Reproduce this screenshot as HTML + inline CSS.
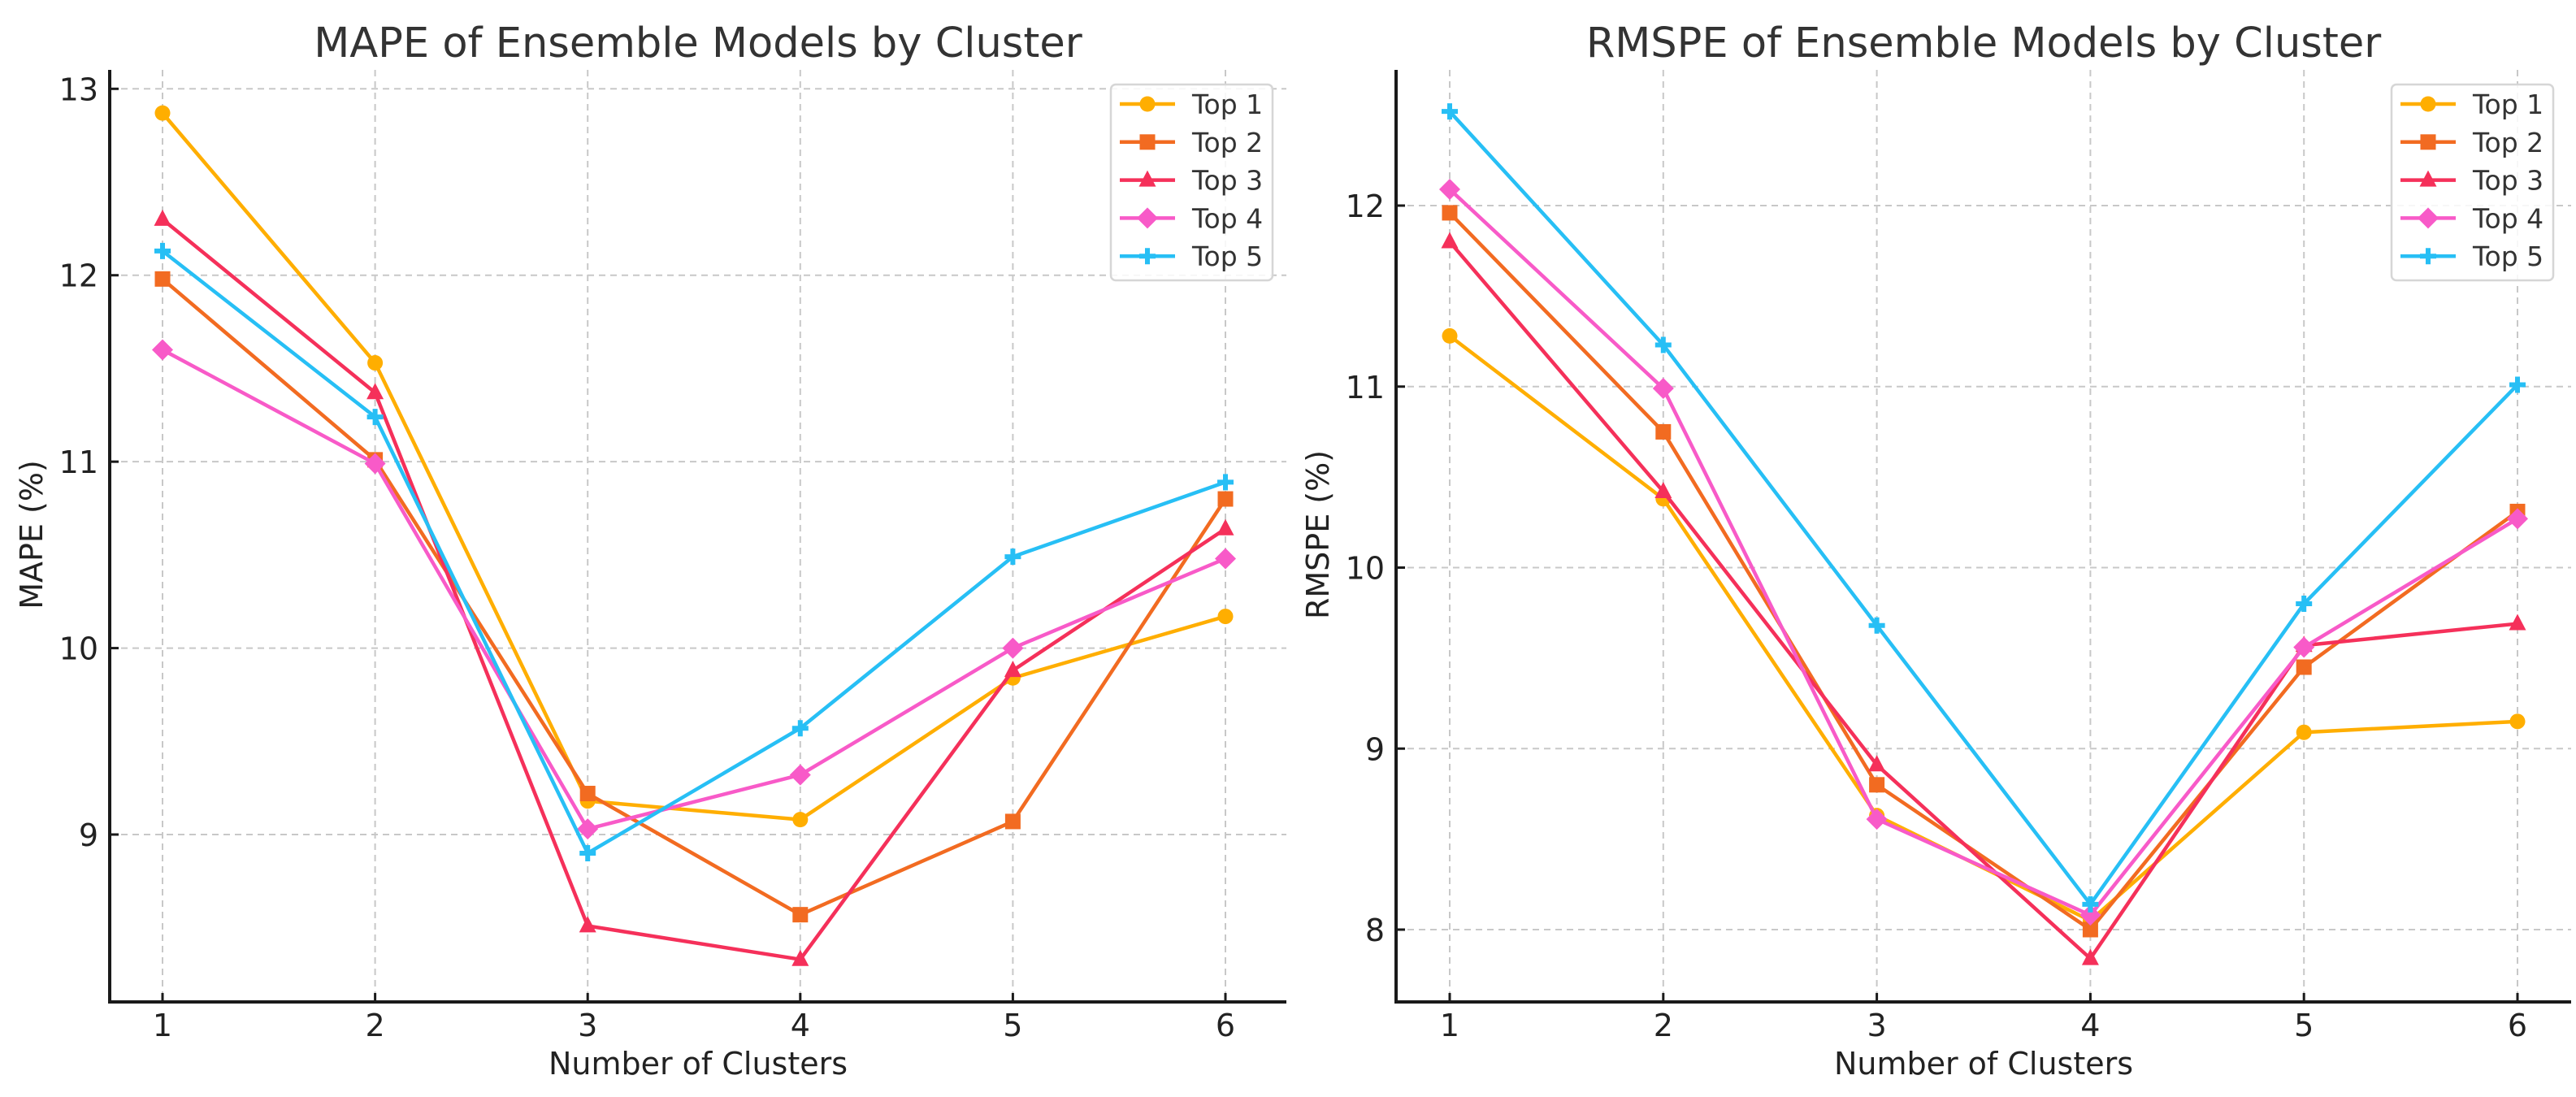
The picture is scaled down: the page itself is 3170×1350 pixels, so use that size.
<!DOCTYPE html>
<html><head><meta charset="utf-8"><style>
html,body{margin:0;padding:0;background:#fff;}
svg{display:block;font-family:"DejaVu Sans","Liberation Sans",sans-serif;}
</style></head><body>
<svg id="chart" width="3170" height="1350" viewBox="0 0 3170 1350" xmlns="http://www.w3.org/2000/svg"></svg>
<script>
const categories = [1, 2, 3, 4, 5, 6];
const seriesNames = ["Top 1", "Top 2", "Top 3", "Top 4", "Top 5"];
const mapeTop1 = [12.87, 11.53, 9.18, 9.08, 9.84, 10.17];
const mapeTop2 = [11.98, 11.01, 9.22, 8.57, 9.07, 10.80];
const mapeTop3 = [12.30, 11.37, 8.51, 8.33, 9.88, 10.64];
const mapeTop4 = [11.60, 10.99, 9.03, 9.32, 10.00, 10.48];
const mapeTop5 = [12.13, 11.24, 8.90, 9.57, 10.49, 10.89];
const rmspeTop1 = [11.28, 10.38, 8.63, 8.05, 9.09, 9.15];
const rmspeTop2 = [11.96, 10.75, 8.80, 8.00, 9.45, 10.31];
const rmspeTop3 = [11.80, 10.42, 8.91, 7.84, 9.57, 9.69];
const rmspeTop4 = [12.09, 10.99, 8.61, 8.08, 9.56, 10.27];
const rmspeTop5 = [12.52, 11.23, 9.68, 8.14, 9.80, 11.01];
const mapeTicks = [9, 10, 11, 12, 13];
const rmspeTicks = [8, 9, 10, 11, 12];
const colors = ["#ffae00", "#f26b21", "#f5305a", "#f85ac8", "#27bff5"];
const markers = ["circle", "square", "triangle", "diamond", "plus"];

const NS = "http://www.w3.org/2000/svg";
const svg = document.getElementById("chart");
function mk(tag, attrs, parent) {
  const e = document.createElementNS(NS, tag);
  for (const k in attrs) e.setAttribute(k, attrs[k]);
  (parent || svg).appendChild(e);
  return e;
}

function marker(g, type, x, y, color) {
  let m;
  if (type === "circle") m = mk("circle", {cx: x, cy: y, r: 9.5, fill: color}, g);
  else if (type === "square") m = mk("rect", {x: x - 9.5, y: y - 9.5, width: 19, height: 19, fill: color}, g);
  else if (type === "triangle") m = mk("polygon", {points: `${x},${y-12} ${x+10.5},${y+8} ${x-10.5},${y+8}`, fill: color}, g);
  else if (type === "diamond") m = mk("polygon", {points: `${x},${y-13} ${x+13},${y} ${x},${y+13} ${x-13},${y}`, fill: color}, g);
  else {
    m = mk("path", {d: `M${x-10},${y}H${x+10}M${x},${y-10}V${y+10}`, stroke: color, "stroke-width": 6, fill: "none"}, g);
  }
  
  
}

function drawPanel(opt) {
  const g = mk("g", {});
  
  
  const xS = v => opt.x1 + (v - 1) * (opt.x6 - opt.x1) / 5;
  const yS = v => opt.yA + (opt.vA - v) * (opt.yB - opt.yA) / (opt.vA - opt.vB);
  categories.forEach(c => {
    const l = mk("line", {x1: xS(c), x2: xS(c), y1: opt.top, y2: opt.bottom, stroke: "#c8c8c8", "stroke-width": 2, "stroke-dasharray": "8,6"}, g);
    
    
  });
  opt.ticks.forEach(t => {
    const l = mk("line", {x1: opt.left, x2: opt.right, y1: yS(t), y2: yS(t), stroke: "#c8c8c8", "stroke-width": 2, "stroke-dasharray": "8,6"}, g);
    
    
  });
  opt.series.forEach((vals, i) => {
    const sg = mk("g", {}, g);
    
    
    const pts = vals.map((v, j) => xS(categories[j]) + "," + yS(v)).join(" ");
    const pl = mk("polyline", {points: pts, fill: "none", stroke: colors[i], "stroke-width": 4.5, "stroke-linejoin": "round"}, sg);
    
    
    vals.forEach((v, j) => marker(sg, markers[i], xS(categories[j]), yS(v), colors[i]));
  });
  const sp = mk("path", {d: `M${opt.left},${opt.top}V${opt.bottom}H${opt.right}`, fill: "none", stroke: "#1a1a1a", "stroke-width": 4}, g);
  
  
  categories.forEach(c => {
    mk("line", {x1: xS(c), x2: xS(c), y1: opt.bottom, y2: opt.bottom - 11, stroke: "#1a1a1a", "stroke-width": 3}, g);
    const t = mk("text", {x: xS(c), y: opt.bottom + 42, "text-anchor": "middle", "font-size": 38, fill: "#222"}, g);
    t.textContent = c;
    
    
  });
  opt.ticks.forEach(v => {
    mk("line", {x1: opt.left, x2: opt.left + 11, y1: yS(v), y2: yS(v), stroke: "#1a1a1a", "stroke-width": 3}, g);
    const t = mk("text", {x: opt.left - 14, y: yS(v) + 14, "text-anchor": "end", "font-size": 38, fill: "#222"}, g);
    t.textContent = v;
    
    
  });
  const cx = (opt.left + opt.right) / 2;
  const ti = mk("text", {x: cx, y: 70, "text-anchor": "middle", "font-size": 51, fill: "#333"}, g);
  ti.textContent = opt.title;
  
  
  const xl = mk("text", {x: cx, y: 1322, "text-anchor": "middle", "font-size": 38, fill: "#222"}, g);
  xl.textContent = "Number of Clusters";
  
  
  const yl = mk("text", {x: 0, y: 0, "text-anchor": "middle", "font-size": 38, fill: "#222", transform: `translate(${opt.ylx},658) rotate(-90)`}, g);
  yl.textContent = opt.ylabel;
  
  
  const lg = mk("g", {}, g);
  
  
  mk("rect", {x: opt.legX, y: 104, width: 199, height: 241, rx: 6, fill: "rgba(255,255,255,0.85)", stroke: "#d6d6d6", "stroke-width": 2.5}, lg);
  seriesNames.forEach((n, i) => {
    const y = 128 + i * 46.8;
    const e = mk("g", {}, lg);
    
    
    mk("line", {x1: opt.legX + 11, x2: opt.legX + 79, y1: y, y2: y, stroke: colors[i], "stroke-width": 4.5}, e);
    marker(e, markers[i], opt.legX + 45, y, colors[i]);
    const t = mk("text", {x: opt.legX + 100, y: y + 12, "font-size": 33, fill: "#333"}, e);
    t.textContent = n;
  });
}

drawPanel({name: "mape-panel", title: "MAPE of Ensemble Models by Cluster", ylabel: "MAPE (%)",
  left: 135, right: 1583, top: 86, bottom: 1233, x1: 200, x6: 1508,
  vA: 13, yA: 109.3, vB: 9, yB: 1027, ticks: mapeTicks, ylx: 52, legX: 1367,
  series: [mapeTop1, mapeTop2, mapeTop3, mapeTop4, mapeTop5]});
drawPanel({name: "rmspe-panel", title: "RMSPE of Ensemble Models by Cluster", ylabel: "RMSPE (%)",
  left: 1718, right: 3164, top: 86, bottom: 1233, x1: 1784, x6: 3098,
  vA: 12, yA: 253, vB: 8, yB: 1144, ticks: rmspeTicks, ylx: 1635, legX: 2943,
  series: [rmspeTop1, rmspeTop2, rmspeTop3, rmspeTop4, rmspeTop5]});
</script>
</body></html>
